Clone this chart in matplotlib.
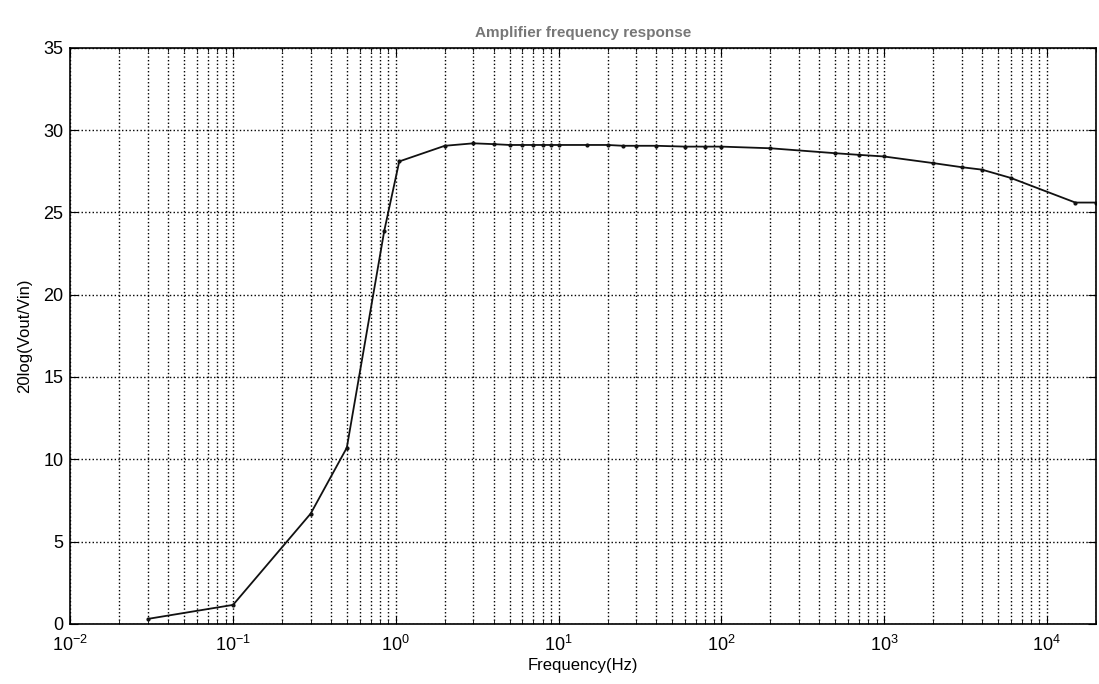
import numpy as np
import matplotlib
matplotlib.use("Agg")
from matplotlib import pyplot as plt
from matplotlib.ticker import LogLocator, NullFormatter

plt.rcParams['font.family'] = ['Liberation Sans', 'DejaVu Sans']
plt.rcParams['mathtext.default'] = 'regular'

# measured frequency response (Hz, dB)
freq = [0.03, 0.1, 0.3, 0.5, 0.85, 1.05, 2, 3, 4, 5, 6, 7, 8, 9, 10,
        15, 20, 25, 30, 40, 60, 80, 100, 200, 500, 700, 1000,
        2000, 3000, 4000, 6000, 15000, 20000]
gain = [0.3, 1.15, 6.7, 10.7, 23.9, 28.1, 29.05, 29.2, 29.15, 29.1, 29.1, 29.1, 29.1, 29.1, 29.1,
        29.1, 29.1, 29.05, 29.05, 29.05, 29.0, 29.0, 29.0, 28.9, 28.6, 28.5, 28.4,
        28.0, 27.75, 27.6, 27.1, 25.6, 25.6]

fig = plt.figure(figsize=(10.99, 6.84), dpi=100)
ax = fig.add_axes([0.064, 0.088, 0.933, 0.842])

ax.semilogx(freq, gain, color='#111111', linewidth=1.3, marker='.', markersize=4)

ax.set_xlim(1e-2, 2e4)
ax.set_ylim(0, 35)
ax.set_yticks([0, 5, 10, 15, 20, 25, 30, 35])
ax.xaxis.set_major_locator(LogLocator(base=10, numticks=10))
ax.xaxis.set_minor_locator(LogLocator(base=10, subs=np.arange(2, 10), numticks=100))
ax.xaxis.set_minor_formatter(NullFormatter())

ax.grid(True, which='major', axis='both', linestyle=':', color='black', linewidth=1.0)
ax.grid(True, which='minor', axis='x', linestyle=':', color='black', linewidth=1.0)

ax.tick_params(which='both', direction='in', top=True, right=True, labelsize=13)
ax.tick_params(axis='x', which='major', pad=8)
ax.tick_params(axis='y', which='major', pad=5)
ax.tick_params(which='major', length=6)
ax.tick_params(which='minor', length=3)
for s in ax.spines.values():
    s.set_linewidth(1.2)
    s.set_color('black')

ax.set_title('Amplifier frequency response', fontsize=11, fontweight='bold', color='#777777', pad=8)
ax.set_xlabel('Frequency(Hz)', fontsize=12, labelpad=2)
ax.set_ylabel('20log(Vout/Vin)', fontsize=12, labelpad=8)

plt.savefig('out.png', dpi=100)
